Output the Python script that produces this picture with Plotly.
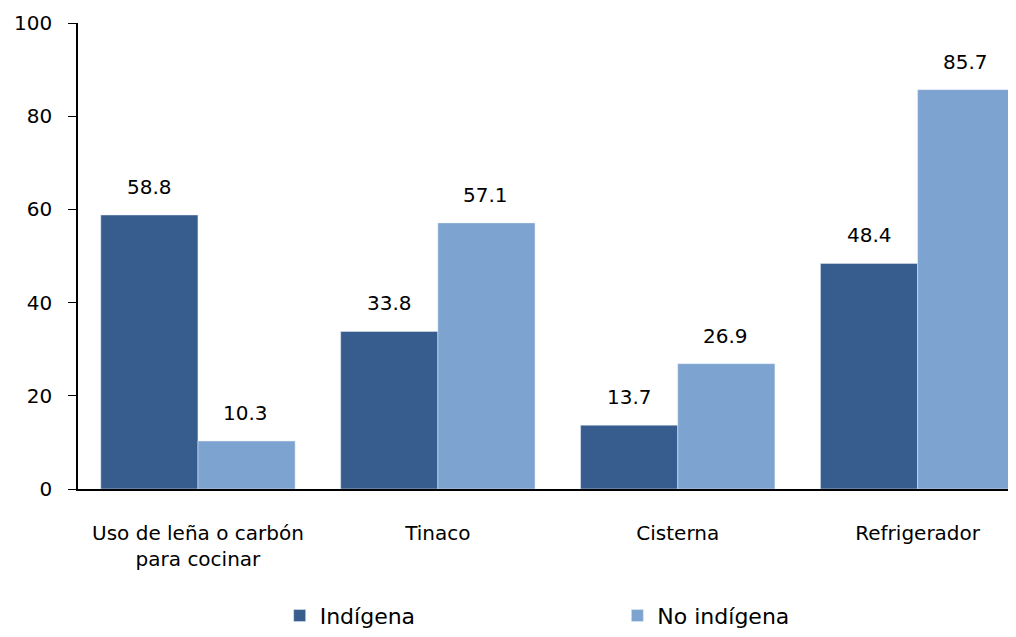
import plotly.graph_objects as go

categorias = ["Uso de leña o carbón<br>para cocinar", "Tinaco", "Cisterna", "Refrigerador"]
indigena = [58.8, 33.8, 13.7, 48.4]
no_indigena = [10.3, 57.1, 26.9, 85.7]
y_ticks = [0, 20, 40, 60, 80, 100]

oscuro = "#365D8E"
claro = "#7DA3D0"
fuente = "DejaVu Sans"

fig = go.Figure()
fig.add_trace(go.Bar(x=categorias, y=indigena, name="Indígena", marker_color=oscuro,
                     legend="legend"))
fig.add_trace(go.Bar(x=categorias, y=no_indigena, name="No indígena", marker_color=claro,
                     legend="legend2"))

# etiquetas encima de cada barra
anots = []
for serie, desplaz in ((indigena, -48), (no_indigena, 48)):
    for cat, val in zip(categorias, serie):
        anots.append(dict(x=cat, y=val, text=f"{val:.1f}", showarrow=False,
                          xshift=desplaz, yshift=14, yanchor="bottom",
                          font=dict(size=20, color="black")))

leyenda = dict(orientation="h", y=-0.272, xanchor="left", yanchor="middle",
               itemwidth=30, font=dict(family=fuente, size=22), bgcolor="rgba(0,0,0,0)")

# la página tiene 8px de margen en el body
fig.update_layout(
    width=1008, height=629,
    margin=dict(l=70, r=0, t=15, b=144),
    plot_bgcolor="white", paper_bgcolor="white",
    font=dict(family=fuente, size=20, color="black"),
    barmode="group", bargap=0.19, bargroupgap=0,
    annotations=anots,
    showlegend=True,
    legend=dict(leyenda, x=0.215),
    legend2=dict(leyenda, x=0.575),
)
fig.update_xaxes(range=[-0.5, 3.41], showline=True, linecolor="black", linewidth=1.5,
                 ticks="", ticklabelstandoff=25, automargin=False,
                 tickfont=dict(family=fuente, size=20))
fig.update_yaxes(range=[0, 100], tickvals=y_ticks, showgrid=False, zeroline=False,
                 showline=True, linecolor="black", linewidth=1.5, automargin=False,
                 ticks="outside", ticklen=8, tickcolor="black", ticklabelstandoff=12,
                 tickfont=dict(family=fuente, size=20))

fig.write_html("out.html")
